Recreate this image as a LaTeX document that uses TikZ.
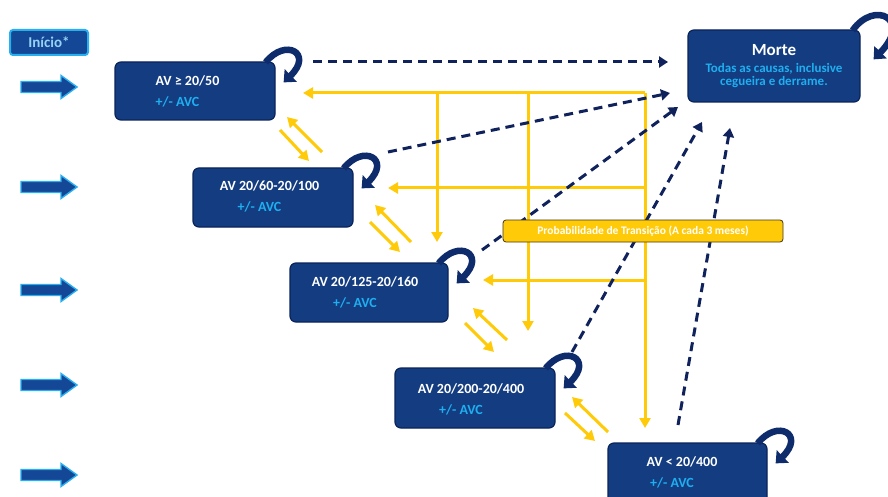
\documentclass[tikz,border=0pt]{standalone}
\usepackage{fontspec}
\setmainfont{Carlito}
\usetikzlibrary{arrows.meta}
\definecolor{boxfill}{RGB}{20,60,128}
\definecolor{boxline}{RGB}{10,36,90}
\definecolor{avc}{RGB}{30,175,240}
\definecolor{gold}{RGB}{255,202,8}
\definecolor{navy}{RGB}{16,34,92}
\definecolor{loopc}{RGB}{14,44,108}
\definecolor{arrfill}{RGB}{20,72,150}
\definecolor{cyanline}{RGB}{40,175,240}
\definecolor{inicio}{RGB}{150,210,245}
\definecolor{labelline}{RGB}{70,55,20}
\begin{document}
\begin{tikzpicture}[x=1pt,y=-1pt,
  statebox/.style={draw=boxline, line width=1.2pt, fill=boxfill, rounded corners=6pt, inner sep=0pt},
  avtext/.style={text=white, font=\bfseries\fontsize{14}{21}\selectfont, align=center, inner sep=0pt},
  dasharrow/.style={navy, line width=3pt, dash pattern=on 9pt off 6pt, -{Triangle[length=9pt,width=11pt]}},
  goldarrow/.style={gold, line width=3pt, -{Triangle[length=10pt,width=11pt]}},
  selfloop/.style={loopc, line width=6.5pt, -{Triangle[length=10pt,width=17pt]}},
  startarrow/.style={fill=arrfill, draw=cyanline, line width=1.4pt, line join=miter}
]
\path[fill=white,use as bounding box] (0,0) rectangle (888,497);

% --- boxes ---
\node[statebox, minimum width=160pt, minimum height=58pt] (b1) at (195,91) {};
\node[statebox, minimum width=160pt, minimum height=59pt] (b2) at (273,197.5) {};
\node[statebox, minimum width=158pt, minimum height=59pt] (b3) at (369,292.5) {};
\node[statebox, minimum width=160pt, minimum height=60pt] (b4) at (475,398) {};
\node[statebox, minimum width=159pt, minimum height=60pt] (b5) at (687.5,473) {};
\node[statebox, minimum width=172pt, minimum height=72pt, align=center,
      font=\bfseries\fontsize{13}{12.5}\selectfont, text=white] (morte) at (774,66)
  {{\fontsize{17}{17}\selectfont Morte}\\[5pt]\textcolor{avc}{Todas as causas, inclusive}\\\textcolor{avc}{cegueira e derrame.}};

\node[avtext] (t1) at (187.5,91.5) {AV ≥ 20/50\\\textcolor{avc}{+/- AVC}\rule{20pt}{0pt}};
\node[avtext] (t2) at (269.5,196.5) {AV 20/60-20/100\\\textcolor{avc}{+/- AVC}\rule{20pt}{0pt}};
\node[avtext] (t3) at (365,292.5) {AV 20/125-20/160\\\textcolor{avc}{+/- AVC}\rule{20pt}{0pt}};
\node[avtext] (t4) at (471,399) {AV 20/200-20/400\\\textcolor{avc}{+/- AVC}\rule{20pt}{0pt}};
\node[avtext] (t5) at (682,472.5) {AV < 20/400\\\textcolor{avc}{+/- AVC}\rule{20pt}{0pt}};

% --- Inicio ---
\node[fill=arrfill, draw=cyanline, line width=2pt, rounded corners=3pt, minimum width=78pt,
      minimum height=25pt, inner sep=0pt, text=inicio, font=\bfseries\fontsize{15}{15}\selectfont] (ini) at (49,42.5) {Início*};

% --- start arrows ---
\foreach \yy in {87,187,290,385,475}{
  \filldraw[startarrow] (21,\yy-5.5) -- (61,\yy-5.5) -- (61,\yy-11.5) -- (77,\yy) -- (61,\yy+11.5) -- (61,\yy+5.5) -- (21,\yy+5.5) -- cycle;
}

% --- yellow grid ---
\coordinate (ya) at (645,93);
\coordinate (yb) at (437,93);
\coordinate (yc) at (528,93);
\coordinate (yd) at (645,188);
\coordinate (ye) at (645,280);
\coordinate (ta) at (303,93);
\coordinate (tb) at (437,242);
\coordinate (tc) at (528,331);
\coordinate (td) at (645,428);
\coordinate (te) at (388,188);
\coordinate (tf) at (483,280);
\draw[goldarrow] (ya) -- (ta);
\draw[goldarrow] (yb) -- (tb);
\draw[goldarrow] (yc) -- (tc);
\draw[goldarrow] (ya) -- (td);
\draw[goldarrow] (yd) -- (te);
\draw[goldarrow] (ye) -- (tf);

% --- yellow transition pairs ---
\coordinate (p1a) at (322,152); \coordinate (p1b) at (287,117);
\coordinate (p1c) at (280,130); \coordinate (p1d) at (309,161);
\coordinate (p2a) at (411,242); \coordinate (p2b) at (375,205);
\coordinate (p2c) at (370,222); \coordinate (p2d) at (400,252);
\coordinate (p3a) at (507,340); \coordinate (p3b) at (473,308);
\coordinate (p3c) at (465,323); \coordinate (p3d) at (494,352);
\coordinate (p4a) at (608,432); \coordinate (p4b) at (572,397);
\coordinate (p4c) at (565,413); \coordinate (p4d) at (595,441);
\foreach \p in {1,2,3,4}{
  \draw[goldarrow] (p\p a) -- (p\p b);
  \draw[goldarrow] (p\p c) -- (p\p d);
}

% --- dashed arrows to Morte ---
\coordinate (d1s) at (313,62);  \coordinate (d1e) at (668,62);
\coordinate (d2s) at (388,152); \coordinate (d2e) at (670,93);
\coordinate (d3s) at (482,250); \coordinate (d3e) at (678,107);
\coordinate (d4s) at (572,352); \coordinate (d4e) at (702,122);
\coordinate (d5s) at (678,425); \coordinate (d5e) at (730,128);
\foreach \d in {1,...,5}{
  \draw[dasharrow] (d\d s) -- (d\d e);
}

% --- self loops ---
\foreach \b in {b1,b2,b3,b4,b5}{
  \draw[selfloop] ([shift={(-10,1)}]\b.north east) .. controls ([shift={(10,-24)}]\b.north east) and ([shift={(38,-8)}]\b.north east) .. ([shift={(8,21)}]\b.north east);
}
\draw[selfloop] ([shift={(-8,1)}]morte.north east) .. controls ([shift={(14,-30)}]morte.north east) and ([shift={(52,-10)}]morte.north east) .. ([shift={(13,30)}]morte.north east);

% --- label ---
\node[fill=gold, draw=labelline, line width=0.8pt, rounded corners=3pt, minimum width=280pt,
      minimum height=22pt, inner sep=0pt, text=white, font=\bfseries\fontsize{11.5}{12}\selectfont] (lab) at (643,231)
  {Probabilidade de Transição (A cada 3 meses)};
\end{tikzpicture}
\end{document}
